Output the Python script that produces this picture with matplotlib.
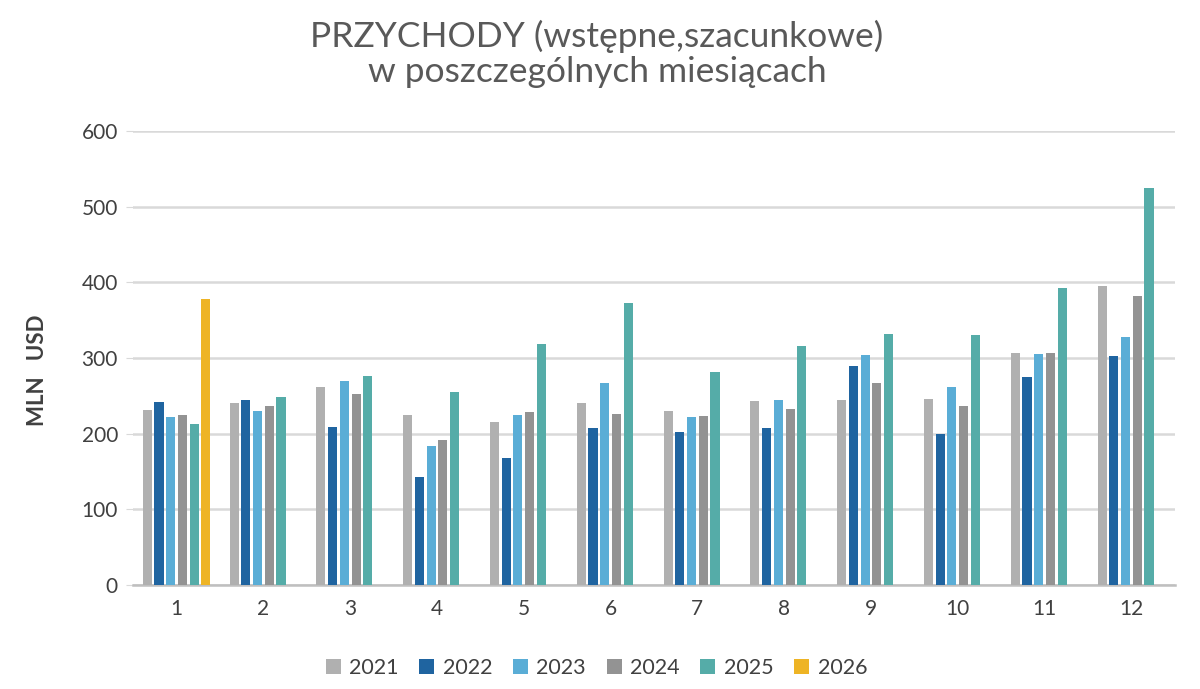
import numpy as np
import matplotlib.pyplot as plt

plt.rcParams["font.family"] = ["Lato", "DejaVu Sans"]

# dane (mln USD)
months = [1, 2, 3, 4, 5, 6, 7, 8, 9, 10, 11, 12]
years = ["2021", "2022", "2023", "2024", "2025", "2026"]

v2021 = [231, 241, 261, 225, 215, 240, 230, 243, 244, 246, 306, 395]
v2022 = [242, 244, 209, 143, 168, 207, 202, 207, 290, 200, 275, 303]
v2023 = [222, 230, 269, 183, 224, 267, 222, 245, 304, 261, 305, 328]
v2024 = [225, 236, 252, 192, 228, 226, 223, 233, 267, 236, 306, 382]
v2025 = [213, 248, 276, 255, 319, 373, 281, 316, 332, 330, 393, 524]
v2026 = [378, np.nan, np.nan, np.nan, np.nan, np.nan, np.nan, np.nan, np.nan, np.nan, np.nan, np.nan]

series = [v2021, v2022, v2023, v2024, v2025, v2026]
colors = ["#b0b0b0", "#1f64a0", "#5aadd6", "#939393", "#55aca8", "#eeb425"]

fig = plt.figure(figsize=(12, 6.89), dpi=100)
ax = fig.add_axes([0.111, 0.151, 0.868, 0.659])

x = np.arange(len(months))
step = 0.135
width = 0.105
for i, (vals, col, lab) in enumerate(zip(series, colors, years)):
    ax.bar(x + (i - 2.5) * step, vals, width=width, color=col, label=lab, zorder=3)

ax.set_xlim(-0.5, len(months) - 0.5)
ax.set_ylim(0, 600)
ax.set_yticks(range(0, 601, 100))
ax.set_xticks(x)
ax.set_xticklabels([str(m) for m in months])
ax.grid(axis="y", color="#d9d9d9", linewidth=1.8, zorder=0)
for s in ["top", "right", "left"]:
    ax.spines[s].set_visible(False)
ax.spines["bottom"].set_color("#bfbfbf")
ax.spines["bottom"].set_linewidth(1.8)
ax.tick_params(axis="x", length=0, pad=10, labelsize=15, labelcolor="#404040")
ax.tick_params(axis="y", length=5, color="#d9d9d9", pad=6, labelsize=15, labelcolor="#404040")

fig.text(0.031, 0.463, "MLN   USD", rotation=90, ha="center", va="center",
         fontsize=16, fontweight="bold", color="#404040")

fig.text(0.4975, 0.922, "PRZYCHODY (wstępne,szacunkowe)\nw poszczególnych miesiącach",
         ha="center", va="center", fontsize=25.5, color="#595959", linespacing=1.1)

fig.legend(loc="center", bbox_to_anchor=(0.497, 0.03), ncol=6, frameon=False,
           fontsize=15.5, handlelength=0.7, handleheight=0.7, handletextpad=0.4,
           columnspacing=0.95, labelcolor="#404040")

fig.savefig("out.png", dpi=100)
